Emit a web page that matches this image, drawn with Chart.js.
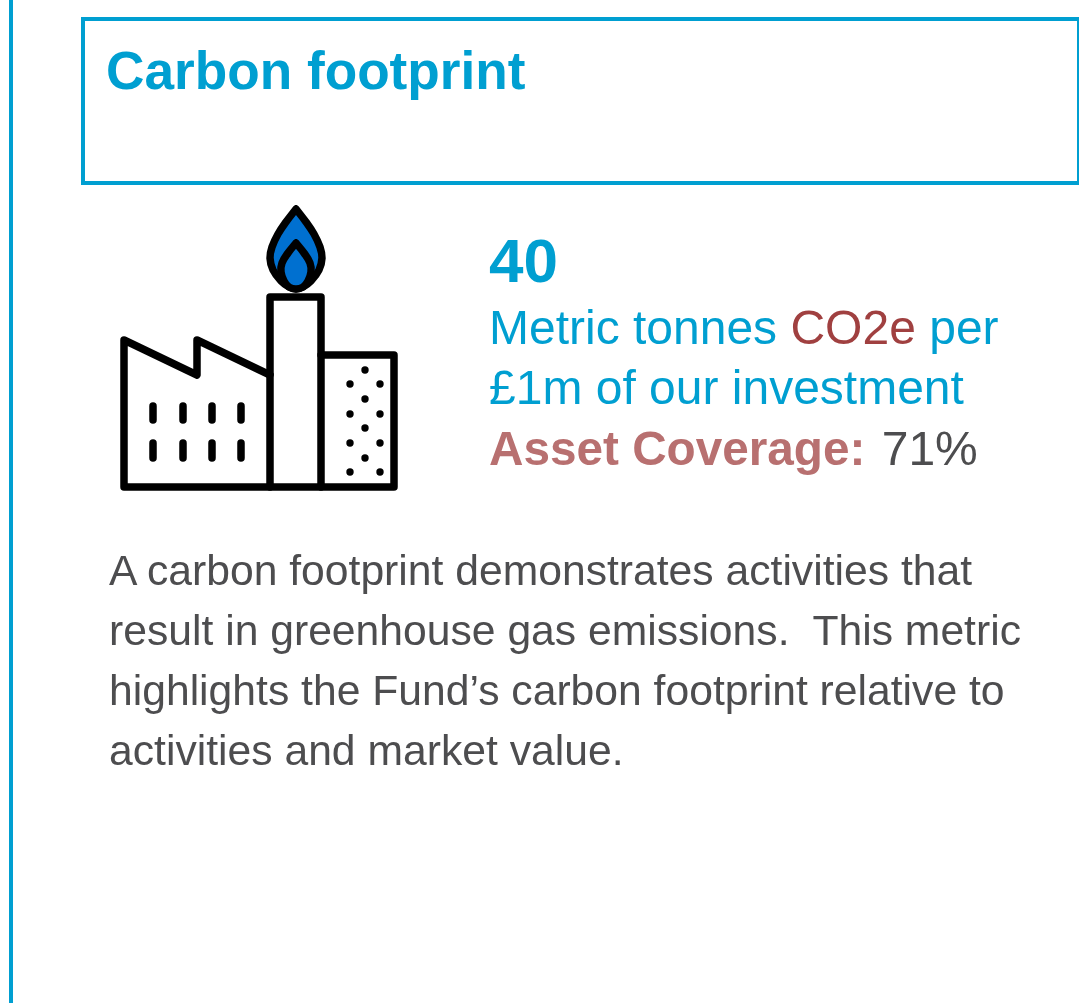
<!DOCTYPE html>
<html lang="en">
<head>
<meta charset="utf-8">
<title>Carbon footprint</title>
<style>
  html, body { margin: 0; padding: 0; background: #fff; }
  #page { position: relative; width: 1079px; height: 1003px; overflow: hidden; font-family: "Liberation Sans", Arial, sans-serif; }
  #myChart { position: absolute; left: 0; top: 0; }
  .rule { position: absolute; background: #009fd1; }
  .box { position: absolute; left: 81px; top: 17px; width: 992px; height: 160px; border: 4px solid #009fd1; }
  .txt { position: absolute; white-space: pre; margin: 0; }
  .blue { color: #009fd1; }
  .grey { color: #4d4d4f; margin-left: 3px; }
  .co2 { color: #a04040; }
  .asset { color: #b87070; font-weight: bold; font-size: 47.7px; }
  .big { font-size: 48px; line-height: 60px; left: 489px; }
  .body { font-size: 42.67px; line-height: 60px; left: 109px; color: #4d4d4f; }
</style>
</head>
<body>
<div id="page">
  <div class="rule" style="left:9px;top:0;width:4px;height:1003px"></div>
  <div class="box"></div>
  <canvas id="myChart" width="1079" height="1003"></canvas>
  <h1 class="txt blue" id="titulo" style="left:106px;top:41px;font-size:53.2px;line-height:60px;font-weight:bold">Carbon footprint</h1>
  <div class="txt blue" id="valor" style="left:489px;top:231px;font-size:62px;line-height:60px;font-weight:bold"></div>
  <div class="txt big blue" style="top:298px">Metric tonnes <span class="co2">CO2e</span> per</div>
  <div class="txt big blue" style="top:358px">£1m of our investment</div>
  <div class="txt big" style="top:419px"><span class="asset">Asset Coverage:</span> <span class="grey" id="cobertura"></span></div>
  <div class="txt body" style="top:540px">A carbon footprint demonstrates activities that</div>
  <div class="txt body" style="top:600px">result in greenhouse gas emissions.  This metric</div>
  <div class="txt body" style="top:660px">highlights the Fund’s carbon footprint relative to</div>
  <div class="txt body" style="top:720px">activities and market value.</div>
</div>
<script src="https://cdn.jsdelivr.net/npm/chart.js@4"></script>
<script>
const carbonFootprint = 40;
const assetCoverage = 71;

// factory icon (null = pen up)
const outlineX = [124, 124, 197, 197, 270, null, 124, 394, 394, 321];
const outlineY = [487, 340, 375, 340, 375, null, 487, 487, 355, 355];
const chimneyX = [270, 270, 321, 321];
const chimneyY = [487, 297, 297, 487];
const windowsX = [153, 153, null, 183, 183, null, 212, 212, null, 241, 241, null, 153, 153, null, 183, 183, null, 212, 212, null, 241, 241];
const windowsY = [406, 420, null, 406, 420, null, 406, 420, null, 406, 420, null, 443, 458, null, 443, 458, null, 443, 458, null, 443, 458];
const dotsX = [365, 350, 380, 365, 350, 380, 365, 350, 380, 365, 350, 380];
const dotsY = [370, 384, 384, 399, 414, 414, 428, 443, 443, 458, 472, 472];
const flameX = [296, 306, 314, 320, 322, 319, 311, 303, 296, 289, 281, 273, 270, 272, 278, 286, 296];
const flameY = [209, 222, 234, 247, 258, 270, 281, 287, 289, 287, 281, 270, 258, 247, 234, 222, 209];
const innerFlameX = [296, 304, 310, 311, 308, 303, 296, 289, 284, 281, 282, 288, 296];
const innerFlameY = [243, 253, 263, 272, 281, 287, 289, 287, 281, 272, 263, 253, 243];

document.getElementById("valor").textContent = carbonFootprint;
document.getElementById("cobertura").textContent = assetCoverage + "%";

function puntos(xs, ys) {
  return xs.map((x, i) => ({ x: x, y: ys[i] }));
}

function trazo(label, xs, ys, extra) {
  return Object.assign({
    label: label,
    data: puntos(xs, ys),
    showLine: true,
    borderColor: "#000",
    borderWidth: 7.5,
    borderCapStyle: "round",
    borderJoinStyle: "round",
    pointRadius: 0,
    spanGaps: false,
    clip: false,
  }, extra);
}

const config = {
  type: "scatter",
  data: {
    datasets: [
      trazo("Inner flame", innerFlameX, innerFlameY, { order: 1, fill: "shape", backgroundColor: "#0070d0", tension: 0.4 }),
      trazo("Flame", flameX, flameY, { order: 2, fill: "shape", backgroundColor: "#0070d0", tension: 0.4 }),
      trazo("Chimney", chimneyX, chimneyY, { order: 3 }),
      trazo("Outline", outlineX, outlineY, { order: 4 }),
      trazo("Windows", windowsX, windowsY, { order: 5 }),
      {
        label: "Dots",
        order: 6,
        data: puntos(dotsX, dotsY),
        showLine: false,
        pointRadius: 3.7,
        pointBackgroundColor: "#000",
        pointBorderWidth: 0,
      },
    ],
  },
  options: {
    responsive: false,
    animation: false,
    layout: { padding: 0, autoPadding: false },
    plugins: { legend: { display: false }, tooltip: { enabled: false } },
    scales: {
      x: { type: "linear", display: false, min: 0, max: 1079 },
      y: { type: "linear", display: false, min: 0, max: 1003, reverse: true },
    },
  },
};

let myChart = new Chart(document.getElementById("myChart"), config);
</script>
</body>
</html>
